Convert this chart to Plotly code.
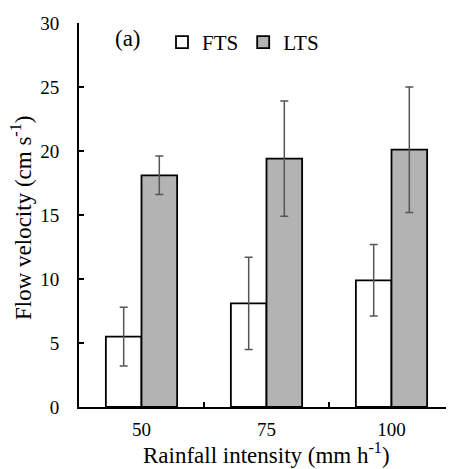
import plotly.graph_objects as go

categories = ["50", "75", "100"]
fts_values = [5.5, 8.1, 9.9]
fts_errors = [2.3, 3.6, 2.8]
lts_values = [18.1, 19.4, 20.1]
lts_errors = [1.5, 4.5, 4.9]
y_ticks = [0, 5, 10, 15, 20, 25, 30]

FONT = "Liberation Serif, Times New Roman, serif"

# page body has an 8px default margin; figure sized to fill the rest
W, H = 446, 461
L, T, B, R = 71, 15, 62, 0
PW, PH = W - L - R, H - T - B

fig = go.Figure()
fig.add_trace(go.Bar(
    name="FTS", x=categories, y=fts_values,
    marker=dict(color="white", line=dict(color="black", width=1.8)),
    error_y=dict(type="data", array=fts_errors, color="#555555", thickness=1.5, width=4),
))
fig.add_trace(go.Bar(
    name="LTS", x=categories, y=lts_values,
    marker=dict(color="#b3b3b3", line=dict(color="black", width=1.8)),
    error_y=dict(type="data", array=lts_errors, color="#555555", thickness=1.5, width=4),
))

def px_x(sx):  # screen x -> paper x
    return (sx - 8 - L) / PW

def px_y(sy):  # screen y -> paper y
    return (H - B - (sy - 8)) / PH

fig.update_layout(
    width=W, height=H,
    margin=dict(l=L, r=R, t=T, b=B, autoexpand=False),
    paper_bgcolor="white", plot_bgcolor="white",
    barmode="group", bargap=0.43, bargroupgap=0,
    font=dict(family=FONT, size=19, color="black"),
    showlegend=True,
    legend=dict(orientation="h", x=px_x(162), y=px_y(22), xanchor="left", yanchor="top",
                font=dict(size=21), bgcolor="rgba(0,0,0,0)", itemwidth=30,
                traceorder="normal"),
    xaxis=dict(
        type="category", showline=True, linecolor="black", linewidth=1.8,
        ticks="inside", ticklen=5, tickcolor="black", tickwidth=1.5,
        tickson="boundaries", ticklabelstandoff=4, automargin=False,
        showgrid=False, zeroline=False,
    ),
    yaxis=dict(
        range=[0, 30], tickvals=y_ticks, showline=True, linecolor="black", linewidth=1.8,
        ticks="inside", ticklen=5, tickcolor="black", tickwidth=1.5,
        ticklabelstandoff=14, automargin=False,
        showgrid=False, zeroline=False,
    ),
    annotations=[
        dict(text="(a)", xref="paper", yref="paper", x=px_x(128), y=px_y(39),
             xanchor="center", yanchor="middle", showarrow=False, font=dict(size=23)),
        dict(text="Rainfall intensity (mm h<sup>-1</sup>)", xref="paper", yref="paper",
             x=px_x(266), y=px_y(453), xanchor="center", yanchor="middle",
             showarrow=False, font=dict(size=23)),
        dict(text="Flow velocity (cm s<sup>-1</sup>)", xref="paper", yref="paper",
             x=px_x(21), y=px_y(218), xanchor="center", yanchor="middle", textangle=-90,
             showarrow=False, font=dict(size=23)),
    ],
)

fig.write_html("out.html")
